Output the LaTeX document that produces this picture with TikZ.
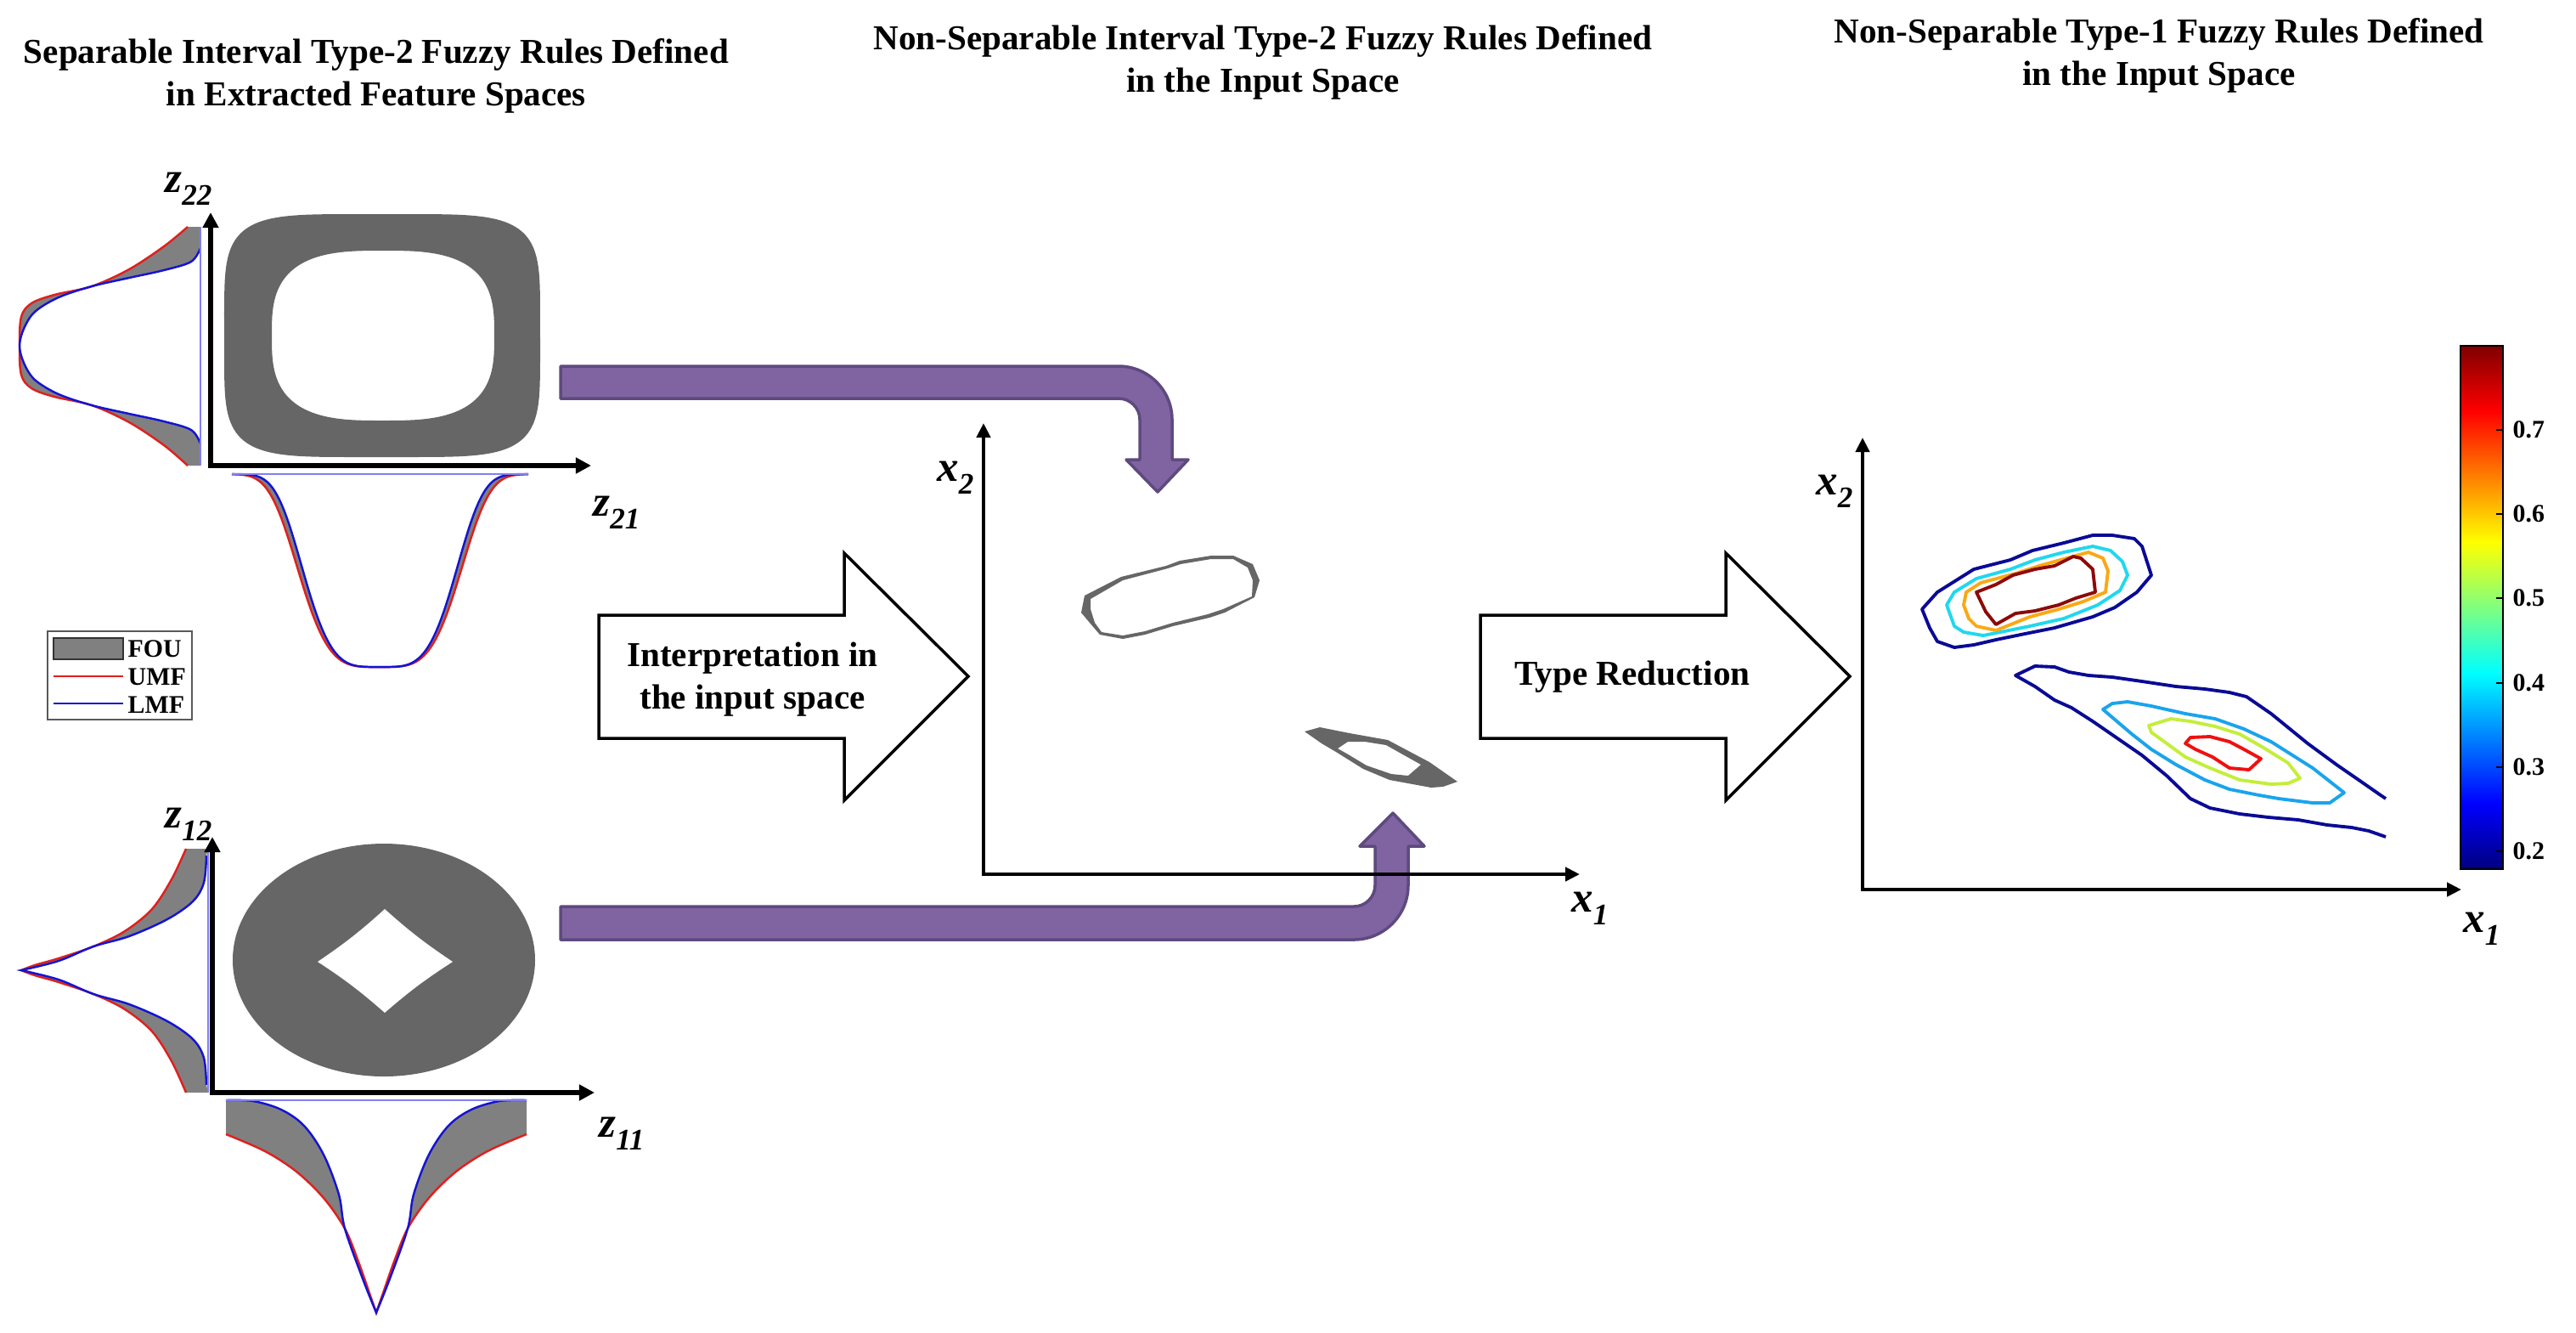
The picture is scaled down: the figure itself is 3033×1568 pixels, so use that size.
\documentclass[tikz,border=0pt]{standalone}
\usepackage{fontspec}
\setmainfont{Liberation Serif}
\usetikzlibrary{arrows.meta}
\definecolor{fougray}{HTML}{808080}
\definecolor{ringgray}{HTML}{666666}
\definecolor{arrowpurple}{HTML}{8064A2}
\definecolor{arrowedge}{HTML}{5E4A7E}
\definecolor{umf}{HTML}{E0201E}
\definecolor{lmf}{HTML}{1414D2}
\definecolor{lmfthin}{HTML}{8080F0}
\definecolor{cnavy}{HTML}{0A0A96}
\definecolor{ccyan}{HTML}{20D8EE}
\definecolor{cskyb}{HTML}{1AA4EC}
\definecolor{corange}{HTML}{FBA814}
\definecolor{cmaroon}{HTML}{8C0A0A}
\definecolor{cyelgr}{HTML}{C4EE3A}
\definecolor{cred}{HTML}{F01010}
\definecolor{jdr}{rgb}{0.5,0,0}
\definecolor{jr}{rgb}{1,0,0}
\definecolor{jy}{rgb}{1,1,0}
\definecolor{jc}{rgb}{0,1,1}
\definecolor{jb}{rgb}{0,0,1}
\definecolor{jdb}{rgb}{0,0,0.5}
\newcommand{\axl}[2]{#1\raisebox{-0.3em}{\fontsize{10}{10}\selectfont #2}}
\begin{document}
\begin{tikzpicture}[x=0.01cm,y=-0.01cm,
  titlestyle/.style={font=\fontsize{11.7}{14.2}\selectfont\bfseries, align=center, inner sep=0pt},
  legtext/.style={font=\fontsize{8.5}{10}\selectfont\bfseries, inner sep=0pt},
  axlab/.style={font=\fontsize{14.5}{14.5}\selectfont\bfseries\itshape, inner sep=0pt},
  axisA/.style={line width=1.5pt, line join=miter, {Triangle[length=0.18cm,width=0.18cm]}-{Triangle[length=0.18cm,width=0.18cm]}},
  axisB/.style={line width=1.3pt, line join=miter, {Triangle[length=0.17cm,width=0.16cm]}-{Triangle[length=0.17cm,width=0.16cm]}},
  umfline/.style={draw=umf, line width=0.7pt},
  lmfline/.style={draw=lmf, line width=0.7pt},
  mfbase/.style={draw=lmfthin, line width=0.4pt},
  bigarrow/.style={draw=black, line width=1pt, fill=white, line join=miter},
  purplearrow/.style={fill=arrowpurple, draw=arrowedge, line width=1pt, line join=round},
  contour/.style={line width=1.1pt, line join=round},
  declare function={
    sgf(\u,\s)=exp(-(\u/\s)*(\u/\s)*(\u/\s)*(\u/\s));
    sqx(\t,\p)=cos(\t)/abs(cos(\t))*exp(\p*ln(abs(cos(\t))));
    sqy(\t,\p)=sin(\t)/abs(sin(\t))*exp(\p*ln(abs(sin(\t))));
  }]
\useasboundingbox (0,0) rectangle (3033,1568);

% ---------- titles ----------
\node[titlestyle] (t1) at (443,89) {Separable Interval Type-2 Fuzzy Rules Defined\\in Extracted Feature Spaces};
\node[titlestyle] (t2) at (1487,73) {Non-Separable Interval Type-2 Fuzzy Rules Defined\\in the Input Space};
\node[titlestyle] (t3) at (2542,65) {Non-Separable Type-1 Fuzzy Rules Defined\\in the Input Space};

% ---------- top-left panel ----------
\fill[ringgray, even odd rule]
  plot[variable=\t, domain=1:361, samples=145] ({450+186*sqx(\t,0.4)},{395+143*sqy(\t,0.4)}) -- cycle
  plot[variable=\t, domain=1:361, samples=145] ({451+131*sqx(\t,0.667)},{395+100*sqy(\t,0.667)}) -- cycle;

\fill[fougray] (236,267) -- plot[smooth, tension=0.55] coordinates {(221,267) (193,290) (152,317) (108,337) (64,347) (37,357) (25,373) (23,407) (25,441) (37,457) (64,467) (108,477) (152,497) (193,524) (221,548)} -- (236,548)
  -- plot[smooth, tension=0.55] coordinates {(236,522) (225,506) (193,496) (152,487) (108,477) (69,464) (41,447) (28,427) (23,407) (28,387) (41,367) (69,350) (108,337) (152,327) (193,318) (225,308) (236,292)} -- cycle;
\draw[umfline] plot[smooth, tension=0.55] coordinates {(221,267) (193,290) (152,317) (108,337) (64,347) (37,357) (25,373) (23,407) (25,441) (37,457) (64,467) (108,477) (152,497) (193,524) (221,548)};
\draw[lmfline] plot[smooth, tension=0.55] coordinates {(236,522) (225,506) (193,496) (152,487) (108,477) (69,464) (41,447) (28,427) (23,407) (28,387) (41,367) (69,350) (108,337) (152,327) (193,318) (225,308) (236,292)};
\draw[mfbase] (236,267) -- (236,548);

\fill[fougray] plot[domain=273:622, samples=120] (\x,{558+227*sgf(\x-447,105)}) -- plot[domain=622:273, samples=120] (\x,{558+227*sgf(\x-447,99)}) -- cycle;
\draw[umfline] plot[domain=273:622, samples=120] (\x,{558+227*sgf(\x-447,105)});
\draw[lmfline] plot[domain=273:622, samples=120] (\x,{558+227*sgf(\x-447,99)});
\draw[mfbase] (273,558) -- (622,558);

\draw[axisA] (248,250) -- (248,548) -- (696,548);
\node[axlab] (z22) at (222,222) {\axl{z}{22}};
\node[axlab] (z21) at (726,603) {\axl{z}{21}};

% ---------- legend ----------
\draw[gray!70!black, line width=0.5pt, fill=white] (56,743) rectangle (226,847);
\draw[fill=fougray, draw=gray!40!black, line width=0.5pt] (63,751) rectangle (145,776);
\draw[umf, line width=0.5pt] (63,796) -- (145,796);
\draw[lmf, line width=0.5pt] (63,828) -- (145,828);
\node[legtext, anchor=west] (lfou) at (150,764) {FOU};
\node[legtext, anchor=west] (lumf) at (150,797) {UMF};
\node[legtext, anchor=west] (llmf) at (150,830) {LMF};

% ---------- bottom-left panel ----------
\fill[ringgray] (452,1130) ellipse [x radius=178, y radius=137];
\fill[white] (374,1132) to[bend right=4] (453,1070) to[bend right=4] (533,1132) to[bend right=4] (453,1192) to[bend right=4] cycle;

\fill[fougray] (245,999) -- plot[smooth, tension=0.55] coordinates {(219,999) (202,1035) (179,1070) (147,1096) (110,1114) (69,1128) (41,1136) (25,1142)}
  -- plot[smooth, tension=0.55] coordinates {(25,1142) (41,1148) (69,1156) (110,1170) (147,1188) (179,1214) (202,1249) (219,1286)} -- (245,1286)
  -- plot[smooth, tension=0.55] coordinates {(243,1277) (240,1245) (227,1223) (197,1202) (152,1182) (110,1170) (69,1153) (25,1142)}
  -- plot[smooth, tension=0.55] coordinates {(25,1142) (69,1131) (110,1114) (152,1102) (197,1082) (227,1061) (240,1039) (243,1007)} -- cycle;
\draw[umfline] plot[smooth, tension=0.55] coordinates {(219,999) (202,1035) (179,1070) (147,1096) (110,1114) (69,1128) (41,1136) (25,1142)}
  -- plot[smooth, tension=0.55] coordinates {(25,1142) (41,1148) (69,1156) (110,1170) (147,1188) (179,1214) (202,1249) (219,1286)};
\draw[lmfline] plot[smooth, tension=0.55] coordinates {(243,1277) (240,1245) (227,1223) (197,1202) (152,1182) (110,1170) (69,1153) (25,1142)}
  -- plot[smooth, tension=0.55] coordinates {(25,1142) (69,1131) (110,1114) (152,1102) (197,1082) (227,1061) (240,1039) (243,1007)};
\draw[mfbase] (245,999) -- (245,1286);

\fill[fougray, even odd rule] (266,1295) -- (266,1335)
  -- plot[smooth, tension=0.55] coordinates {(266,1335) (312,1355) (349,1379) (381,1410) (406,1446) (422,1485) (436,1525) (443,1545)}
  -- plot[smooth, tension=0.55] coordinates {(443,1545) (450,1525) (464,1485) (480,1446) (505,1410) (537,1379) (574,1355) (620,1335)}
  -- (620,1295)
  -- plot[smooth, tension=0.55] coordinates {(620,1295) (588,1296) (555,1306) (528,1325) (505,1359) (487,1406) (480,1446) (459,1505) (443,1545)}
  -- plot[smooth, tension=0.55] coordinates {(443,1545) (427,1505) (406,1446) (399,1406) (381,1359) (358,1325) (331,1306) (298,1296) (266,1295)} -- cycle;
\draw[umfline] plot[smooth, tension=0.55] coordinates {(266,1335) (312,1355) (349,1379) (381,1410) (406,1446) (422,1485) (436,1525) (443,1545)}
  -- plot[smooth, tension=0.55] coordinates {(443,1545) (450,1525) (464,1485) (480,1446) (505,1410) (537,1379) (574,1355) (620,1335)};
\draw[lmfline] plot[smooth, tension=0.55] coordinates {(620,1295) (588,1296) (555,1306) (528,1325) (505,1359) (487,1406) (480,1446) (459,1505) (443,1545)}
  -- plot[smooth, tension=0.55] coordinates {(443,1545) (427,1505) (406,1446) (399,1406) (381,1359) (358,1325) (331,1306) (298,1296) (266,1295)};
\draw[mfbase] (266,1295) -- (620,1295);

\draw[axisA] (250,985) -- (250,1286) -- (700,1286);
\node[axlab] (z12) at (222,970) {\axl{z}{12}};
\node[axlab] (z11) at (732,1334) {\axl{z}{11}};

% ---------- purple arrows ----------
\path[purplearrow] (660,431) -- (1317,431) arc[start angle=-90, end angle=0, radius=63] -- (1380,541) -- (1399,541) -- (1363,579) -- (1326,541) -- (1342,541) -- (1342,494) arc[start angle=0, end angle=-90, radius=25] -- (660,469) -- cycle;
\path[purplearrow] (660,1067) -- (1594,1067) arc[start angle=90, end angle=0, radius=25] -- (1619,996) -- (1601,996) -- (1640,957) -- (1677,996) -- (1658,996) -- (1658,1042) arc[start angle=0, end angle=90, radius=64] -- (660,1106) -- cycle;

% ---------- big white arrows ----------
\path[bigarrow] (705,724) -- (994,724) -- (994,651) -- (1140,796) -- (994,942) -- (994,869) -- (705,869) -- cycle;
\node[titlestyle] (interp) at (886,800) {Interpretation in\\the input space};
\path[bigarrow] (1743,724) -- (2032,724) -- (2032,651) -- (2178,796) -- (2032,942) -- (2032,869) -- (1743,869) -- cycle;
\node[titlestyle] (typered) at (1922,797) {Type Reduction};

% ---------- middle panel ----------
\fill[ringgray, even odd rule]
  (1273,721) -- (1277,701) -- (1320,679) -- (1373,666) -- (1389,660) -- (1426,654) -- (1452,654) -- (1475,664) -- (1483,683) -- (1477,703) -- (1442,721) -- (1424,727) -- (1381,737) -- (1348,747) -- (1322,752) -- (1295,747) -- (1283,733) -- cycle
  (1284,705) -- (1322,683) -- (1375,669) -- (1390,664) -- (1426,658) -- (1452,658) -- (1469,668) -- (1475,683) -- (1474,702) -- (1440,717) -- (1422,723) -- (1381,733) -- (1348,743) -- (1322,748) -- (1297,744) -- (1289,733) -- (1284,717) -- cycle;
\fill[ringgray, even odd rule]
  (1536,861) -- (1554,856) -- (1589,863) -- (1634,871) -- (1683,897) -- (1716,920) -- (1699,926) -- (1685,927) -- (1636,918) -- (1605,905) -- (1573,885) -- (1556,875) -- cycle
  (1575,881) -- (1587,873) -- (1607,873) -- (1632,877) -- (1673,900) -- (1658,913) -- (1638,911) -- (1609,901) -- (1589,889) -- cycle;
\draw[axisB] (1158,498) -- (1158,1029) -- (1860,1029);
\node[axlab] (x2m) at (1125,562) {\axl{x}{2}};
\node[axlab] (x1m) at (1872,1069) {\axl{x}{1}};

% ---------- right panel ----------
\draw[contour, cnavy] (2263,717) -- (2281,697) -- (2324,670) -- (2367,659) -- (2393,648) -- (2430,639) -- (2464,630) -- (2487,630) -- (2513,634) -- (2522,643) -- (2533,677) -- (2516,697) -- (2490,715) -- (2464,726) -- (2419,739) -- (2384,746) -- (2350,753) -- (2324,759) -- (2301,762) -- (2281,755) -- (2272,739) -- cycle;
\draw[contour, ccyan] (2292,712) -- (2301,697) -- (2327,681) -- (2367,670) -- (2396,659) -- (2430,650) -- (2464,643) -- (2485,648) -- (2499,661) -- (2505,677) -- (2496,695) -- (2470,712) -- (2430,728) -- (2390,737) -- (2355,744) -- (2335,748) -- (2312,744) -- (2301,737) -- cycle;
\draw[contour, corange] (2312,712) -- (2315,697) -- (2332,686) -- (2373,675) -- (2401,666) -- (2433,657) -- (2459,650) -- (2476,657) -- (2482,672) -- (2479,697) -- (2453,708) -- (2424,717) -- (2390,726) -- (2350,742) -- (2327,737) -- (2318,728) -- cycle;
\draw[contour, cmaroon] (2327,697) -- (2350,688) -- (2370,677) -- (2396,670) -- (2419,666) -- (2441,655) -- (2450,657) -- (2464,670) -- (2467,697) -- (2444,704) -- (2424,712) -- (2396,719) -- (2373,722) -- (2350,735) -- (2338,720) -- cycle;

\draw[contour, cnavy] (2809,940) -- (2803,936) -- (2780,920) -- (2751,900) -- (2717,875) -- (2674,840) -- (2645,820) -- (2625,815) -- (2596,811) -- (2562,808) -- (2522,802) -- (2487,797) -- (2459,795) -- (2436,791) -- (2419,785) -- (2396,784) -- (2373,795) -- (2396,808) -- (2419,824) -- (2439,833) -- (2464,849) -- (2493,869) -- (2522,889) -- (2551,913) -- (2579,940) -- (2602,951) -- (2637,958) -- (2671,962) -- (2706,965) -- (2740,971) -- (2769,974) -- (2789,978) -- (2809,985);
\draw[contour, cskyb] (2476,835) -- (2487,828) -- (2505,826) -- (2533,831) -- (2573,840) -- (2608,846) -- (2642,858) -- (2674,873) -- (2723,904) -- (2760,933) -- (2743,945) -- (2723,945) -- (2683,940) -- (2660,936) -- (2625,929) -- (2596,918) -- (2562,900) -- (2533,882) -- (2510,864) -- cycle;
\draw[contour, cyelgr] (2530,854) -- (2556,846) -- (2579,849) -- (2608,855) -- (2637,864) -- (2665,880) -- (2694,898) -- (2708,916) -- (2694,922) -- (2674,923) -- (2637,918) -- (2602,904) -- (2573,891) -- (2551,875) -- (2533,862) -- cycle;
\draw[contour, cred] (2573,875) -- (2579,868) -- (2602,867) -- (2625,873) -- (2642,882) -- (2662,893) -- (2648,906) -- (2625,904) -- (2605,891) -- (2585,882) -- cycle;

\draw[axisB] (2193,515) -- (2193,1047) -- (2898,1047);
\node[axlab] (x2r) at (2160,578) {\axl{x}{2}};
\node[axlab] (x1r) at (2922,1093) {\axl{x}{1}};

% colorbar
\shade[top color=jdr, bottom color=jr] (2897,407) rectangle (2947,484);
\shade[top color=jr, bottom color=jy] (2897,484) rectangle (2947,638);
\shade[top color=jy, bottom color=jc] (2897,638) rectangle (2947,792);
\shade[top color=jc, bottom color=jb] (2897,792) rectangle (2947,946);
\shade[top color=jb, bottom color=jdb] (2897,946) rectangle (2947,1023);
\draw[line width=0.5pt] (2897,407) rectangle (2947,1023);
\foreach \yy/\lab/\nm in {506/0.7/cb7, 605/0.6/cb6, 704/0.5/cb5, 804/0.4/cb4, 903/0.3/cb3, 1002/0.2/cb2}{
  \draw[line width=0.5pt] (2939,\yy) -- (2947,\yy);
  \node[legtext, anchor=west] (\nm) at (2958,\yy) {\lab};
}
\end{tikzpicture}
\end{document}
